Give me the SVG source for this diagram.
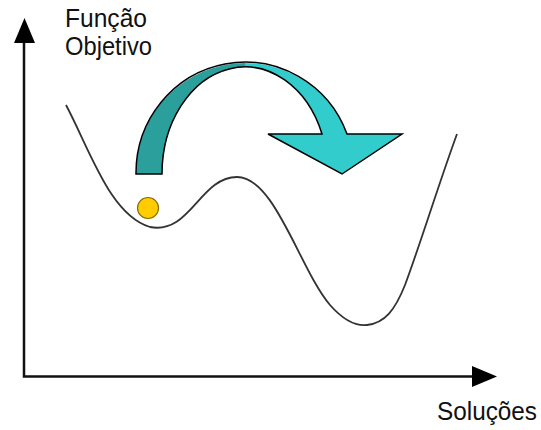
<svg xmlns="http://www.w3.org/2000/svg" width="541" height="430" viewBox="0 0 541 430">
<style>
.axis{stroke:#111;stroke-width:2.5;fill:none}
.head{fill:#000}
.lbl{font-family:"Liberation Sans",Arial,sans-serif;font-size:25px;fill:#111}
.curve{stroke:#333;stroke-width:1.8;fill:none}
</style>
<rect width="541" height="430" fill="#fff"/>
<g id="axes">
<path class="axis" d="M24,40 V376.5 H475"/>
<polygon class="head" points="24.5,18 14,43 35,43"/>
<polygon class="head" points="472,366 497,376.5 472,387"/>
</g>
<g id="labels">
<text class="lbl" x="65" y="27" textLength="82" lengthAdjust="spacingAndGlyphs">Função</text>
<text class="lbl" x="65" y="55" textLength="87" lengthAdjust="spacingAndGlyphs">Objetivo</text>
<text class="lbl" x="437" y="420" textLength="100" lengthAdjust="spacingAndGlyphs">Soluções</text>
</g>
<g id="curve">
<path class="curve" d="M66,105 C90,150 110,215 150,227 C190,235 200,177 237,177 C275,177 300,270 330,305 C345,322 358,326 367,325 C385,323 395,310 405,285 C420,245 440,180 457,134"/>
</g>
<g id="ball">
<circle cx="148" cy="208" r="10.5" fill="#FFCC00" stroke="#8a6d00" stroke-width="1.2"/>
</g>
<g id="arrow">
<path d="M136,174 A109,111 0 0 1 245,63 L245,67 A83,107 0 0 0 162,174 Z" fill="#2A9F9C"/>
<path d="M245,63 A109,111 0 0 1 347,134 L402,134 L342,174 L268,134 L322,134 A83,107 0 0 0 245,67 Z" fill="#33CCCC"/>
<path d="M136,174 A109,111 0 0 1 347,134 L402,134 L342,174 L268,134 L322,134 A83,107 0 0 0 162,174 Z" fill="none" stroke="#000" stroke-width="1.5" stroke-linejoin="miter"/>
</g>
</svg>
